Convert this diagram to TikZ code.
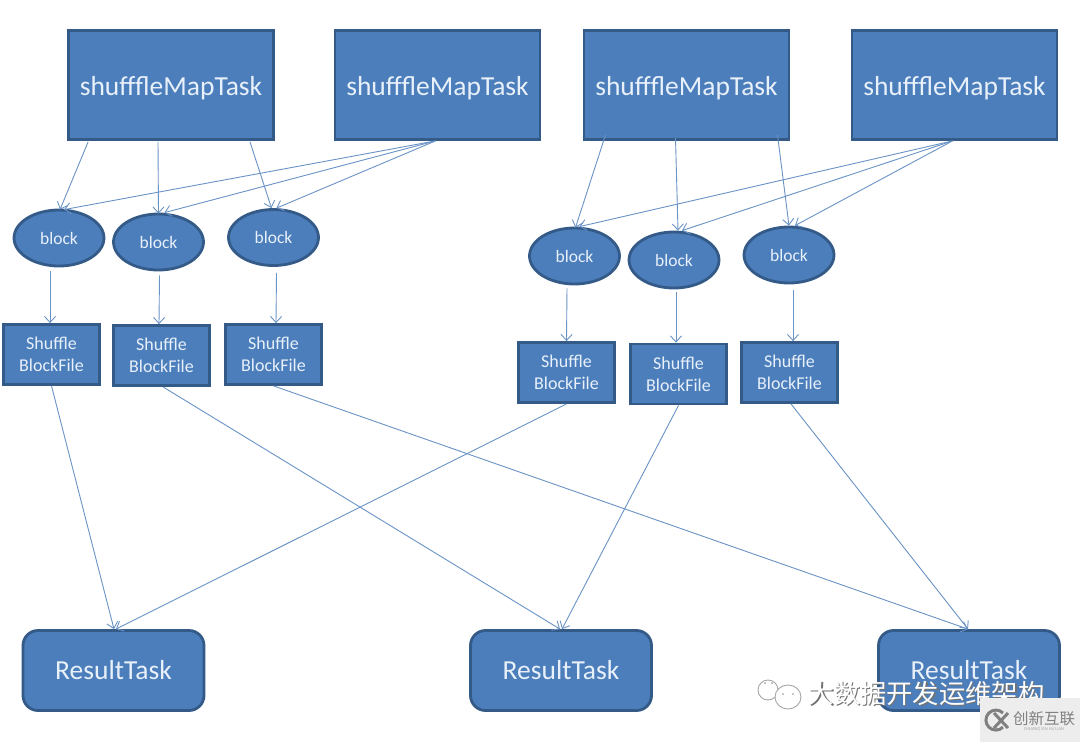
\documentclass[tikz,border=0pt]{standalone}
\usepackage{fontspec}
\setmainfont{Carlito}
\newfontfamily\cjkf{Noto Sans CJK SC}
\usetikzlibrary{arrows.meta,shapes.geometric}
\definecolor{fillb}{HTML}{4B7EBB}
\definecolor{edgeb}{HTML}{345A88}
\definecolor{linkb}{HTML}{6A93C6}
\definecolor{txtb}{HTML}{E8F0FA}
\newcommand{\maptext}{\raisebox{-10pt}[0pt][0pt]{shufffleMapTask}}
\tikzset{
 x=1pt,y=-1pt,
 base/.style={draw=edgeb,fill=fillb,line width=2.8pt,text=txtb,align=center,inner sep=0pt,anchor=center},
 mapbox/.style={base,minimum width=205pt,minimum height=109pt,font=\fontsize{27.5}{32}\selectfont},
 blockell/.style={base,ellipse,minimum width=90pt,minimum height=56pt,font=\fontsize{17.5}{21}\selectfont},
 filebox/.style={base,minimum width=96pt,minimum height=60pt,font=\fontsize{18}{22}\selectfont},
 resbox/.style={base,rounded corners=15pt,minimum width=181pt,minimum height=80pt,font=\fontsize{27.5}{32}\selectfont},
 arr/.style={draw=linkb,line width=0.9pt,-{Straight Barb[length=6pt,width=11pt]}},
 wm/.style={font=\cjkf\fontsize{26.3}{30}\selectfont,inner sep=0pt},
}
\begin{document}
\begin{tikzpicture}
\useasboundingbox (0,0) rectangle (1080,742);
\fill[white] (0,0) rectangle (1080,742);
\node[mapbox] (m1) at (171,85) {\maptext};
\node[mapbox] (m2) at (437.5,85) {\maptext};
\node[mapbox] (m3) at (686.5,85) {\maptext};
\node[mapbox] (m4) at (954.5,85) {\maptext};
\node[blockell] (b1) at (59,238) {block};
\node[blockell] (b2) at (158.5,242) {block};
\node[blockell] (b3) at (273.5,237.5) {block};
\node[blockell] (b4) at (574.5,256) {block};
\node[blockell] (b5) at (674,260) {block};
\node[blockell] (b6) at (789,255) {block};
\node[filebox] (s1) at (51.5,354.5) {Shuffle\\BlockFile};
\node[filebox] (s2) at (161.5,355.5) {Shuffle\\BlockFile};
\node[filebox] (s3) at (273.5,354.5) {Shuffle\\BlockFile};
\node[filebox] (s4) at (566.5,372.5) {Shuffle\\BlockFile};
\node[filebox] (s5) at (678.5,374) {Shuffle\\BlockFile};
\node[filebox] (s6) at (789.5,372.5) {Shuffle\\BlockFile};
\node[resbox] (r1) at (113.5,670.5) {ResultTask};
\node[resbox] (r2) at (561,670.5) {ResultTask};
\node[resbox] (r3) at (969,670.5) {ResultTask};
% map to block
\draw[arr] ([xshift=21pt,yshift=-1pt]m1.south west) -- ([xshift=1pt,yshift=-1pt]b1.north);
\draw[arr] ([xshift=-13pt,yshift=-1pt]m1.south) -- ([yshift=-1pt]b2.north);
\draw[arr] ([xshift=79pt,yshift=-1pt]m1.south) -- ([xshift=-2pt]b3.north);
\draw[arr] ([xshift=-2pt]m2.south) -- ([xshift=5pt,yshift=-1pt]b1.north);
\draw[arr] ([xshift=-2pt]m2.south) -- ([xshift=6pt]b2.north);
\draw[arr] ([xshift=-2pt]m2.south) -- ([xshift=3pt]b3.north);
\draw[arr] ([xshift=-81pt,yshift=6pt]m3.south) -- ([xshift=1pt,yshift=-1pt]b4.north);
\draw[arr] ([xshift=-11pt,yshift=3pt]m3.south) -- ([xshift=4pt]b5.north);
\draw[arr] ([xshift=91pt,yshift=6pt]m3.south) -- (b6.north);
\draw[arr] ([xshift=-2pt]m4.south) -- ([xshift=5pt]b4.north);
\draw[arr] ([xshift=-2pt]m4.south) -- ([xshift=8pt]b5.north);
\draw[arr] ([xshift=-2pt]m4.south) -- ([xshift=6pt]b6.north);
% block to file
\draw[arr] ([xshift=-9pt,yshift=-4pt]b1.south) -- ([xshift=-1.5pt]s1.north);
\draw[arr] ([xshift=1pt,yshift=-4pt]b2.south) -- ([xshift=-2.5pt]s2.north);
\draw[arr] ([xshift=3pt,yshift=-6pt]b3.south) -- ([xshift=2.5pt]s3.north);
\draw[arr] ([xshift=-7.5pt,yshift=-3pt]b4.south) -- (s4.north);
\draw[arr] ([xshift=2pt,yshift=-3pt]b5.south) -- ([xshift=-2.5pt]s5.north);
\draw[arr] ([xshift=4pt,yshift=-6pt]b6.south) -- ([xshift=3.5pt]s6.north);
% file to result
\draw[arr] (s1.south) -- ([xshift=0.5pt]r1.north);
\draw[arr] ([xshift=1.5pt]s2.south) -- ([xshift=-1pt]r2.north);
\draw[arr] (s3.south) -- ([xshift=-1pt]r3.north);
\draw[arr] (s4.south) -- ([xshift=2.5pt]r1.north);
\draw[arr] (s5.south) -- ([xshift=1pt]r2.north);
\draw[arr] ([xshift=1.5pt]s6.south) -- ([xshift=-1pt]r3.north);
% watermark
\begin{scope}[draw=gray!70,fill=white,line width=0.9pt]
\filldraw (768,690) ellipse (10pt and 10pt);
\filldraw (788,697) ellipse (13pt and 12pt);
\fill[gray!70] (765,683) circle (1pt) (772,683) circle (1pt) (783,694) circle (1pt) (793,694) circle (1pt);
\end{scope}
\node[wm,text=black!55,anchor=west] (wms) at (808.8,694.8) {大数据开发运维架构};
\node[wm,text=white,anchor=west] (wmt) at (807.5,693.5) {大数据开发运维架构};
\fill[black!7] (980,698) rectangle (1080,742);
\draw[black!50,line width=3pt] (1003,713) arc (45:315:10pt);
\draw[black!50,line width=3pt] (994,713) -- (1008,728) (1008,713) -- (994,728);
\node[font=\cjkf\fontsize{15.5}{18}\selectfont,text=black!50,inner sep=0pt] (lg) at (1044,718.5) {创新互联};
\node[font=\fontsize{4.5}{5}\selectfont,text=black!35,inner sep=0pt] (lg2) at (1044,729) {CHUANG XIN HU LIAN};
\end{tikzpicture}
\end{document}
